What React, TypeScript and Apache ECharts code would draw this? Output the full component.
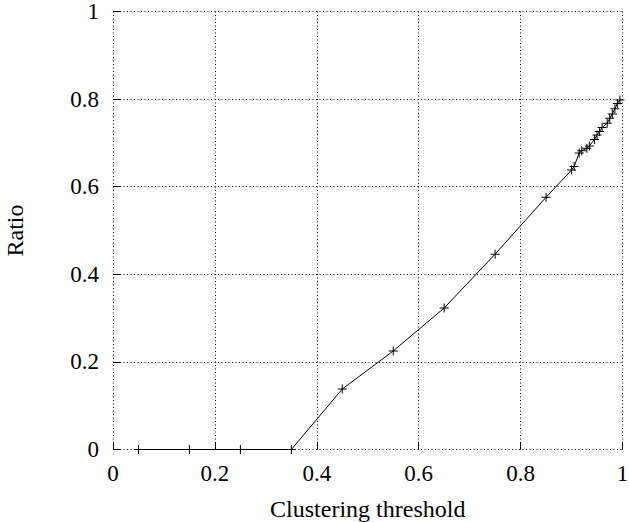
import React, { useEffect, useRef } from "react";
import * as echarts from "echarts";

const thresholds = [
  0.05, 0.15, 0.25, 0.35, 0.45, 0.55, 0.65, 0.75, 0.85,
  0.9, 0.905, 0.915, 0.92, 0.93, 0.935, 0.945, 0.95, 0.955, 0.96,
  0.97, 0.975, 0.98, 0.985, 0.99, 0.995,
];
const ratios = [
  0, 0, 0, 0, 0.138, 0.225, 0.323, 0.446, 0.576,
  0.638, 0.646, 0.677, 0.682, 0.688, 0.693, 0.708, 0.718, 0.726, 0.735,
  0.745, 0.756, 0.766, 0.778, 0.79, 0.798,
];
const xTickLabels = ["0", "0.2", "0.4", "0.6", "0.8", "1"];
const yTickLabels = ["0", "0.2", "0.4", "0.6", "0.8", "1"];

const FONT = "'Liberation Serif', 'Times New Roman', serif";

export default function App() {
  const ref = useRef<HTMLDivElement>(null);
  useEffect(() => {
    if (!ref.current) return;
    const chart = echarts.init(ref.current, undefined, { renderer: "svg" });
    const grid = {
      type: [1, 2.5] as number[],
      color: "#000",
      width: 1,
    };
    chart.setOption({
      animation: false,
      backgroundColor: "#fff",
      grid: {
        left: 113,
        right: 6.5,
        top: 11.5,
        bottom: 72.5,
        containLabel: false,
        outerBoundsMode: "none",
      },
      xAxis: {
        type: "value",
        min: 0,
        max: 1,
        interval: 0.2,
        name: "Clustering threshold",
        nameLocation: "middle",
        nameGap: 47,
        nameTextStyle: { fontFamily: FONT, fontSize: 24, color: "#000" },
        axisLine: { show: false },
        axisTick: { show: true, inside: true, length: 7, lineStyle: { color: "#000" } },
        axisLabel: {
          margin: 12,
          fontFamily: FONT,
          fontSize: 23,
          color: "#000",
          formatter: (v: number) => xTickLabels[Math.round(v / 0.2)] ?? "",
        },
        splitLine: { show: true, lineStyle: grid },
      },
      yAxis: {
        type: "value",
        min: 0,
        max: 1,
        interval: 0.2,
        name: "Ratio",
        nameLocation: "middle",
        nameGap: 86,
        nameRotate: 90,
        nameTextStyle: { fontFamily: FONT, fontSize: 24, color: "#000" },
        axisLine: { show: false },
        axisTick: { show: true, inside: true, length: 7, lineStyle: { color: "#000" } },
        axisLabel: {
          margin: 14,
          fontFamily: FONT,
          fontSize: 23,
          color: "#000",
          formatter: (v: number) => yTickLabels[Math.round(v / 0.2)] ?? "",
        },
        splitLine: { show: true, lineStyle: grid },
      },
      series: [
        {
          type: "line",
          data: thresholds.map((t, i) => [t, ratios[i]]),
          lineStyle: { color: "#000", width: 1 },
          symbol: "path://M4,0h1v9h-1zM0,4h9v1h-9z",
          symbolSize: 9,
          itemStyle: { color: "#000" },
          showAllSymbol: true,
          z: 3,
        },
      ],
    });
    return () => chart.dispose();
  }, []);
  return (
    <div
      ref={ref}
      style={{ position: "fixed", left: 0, top: 0, width: 629, height: 522 }}
    />
  );
}
